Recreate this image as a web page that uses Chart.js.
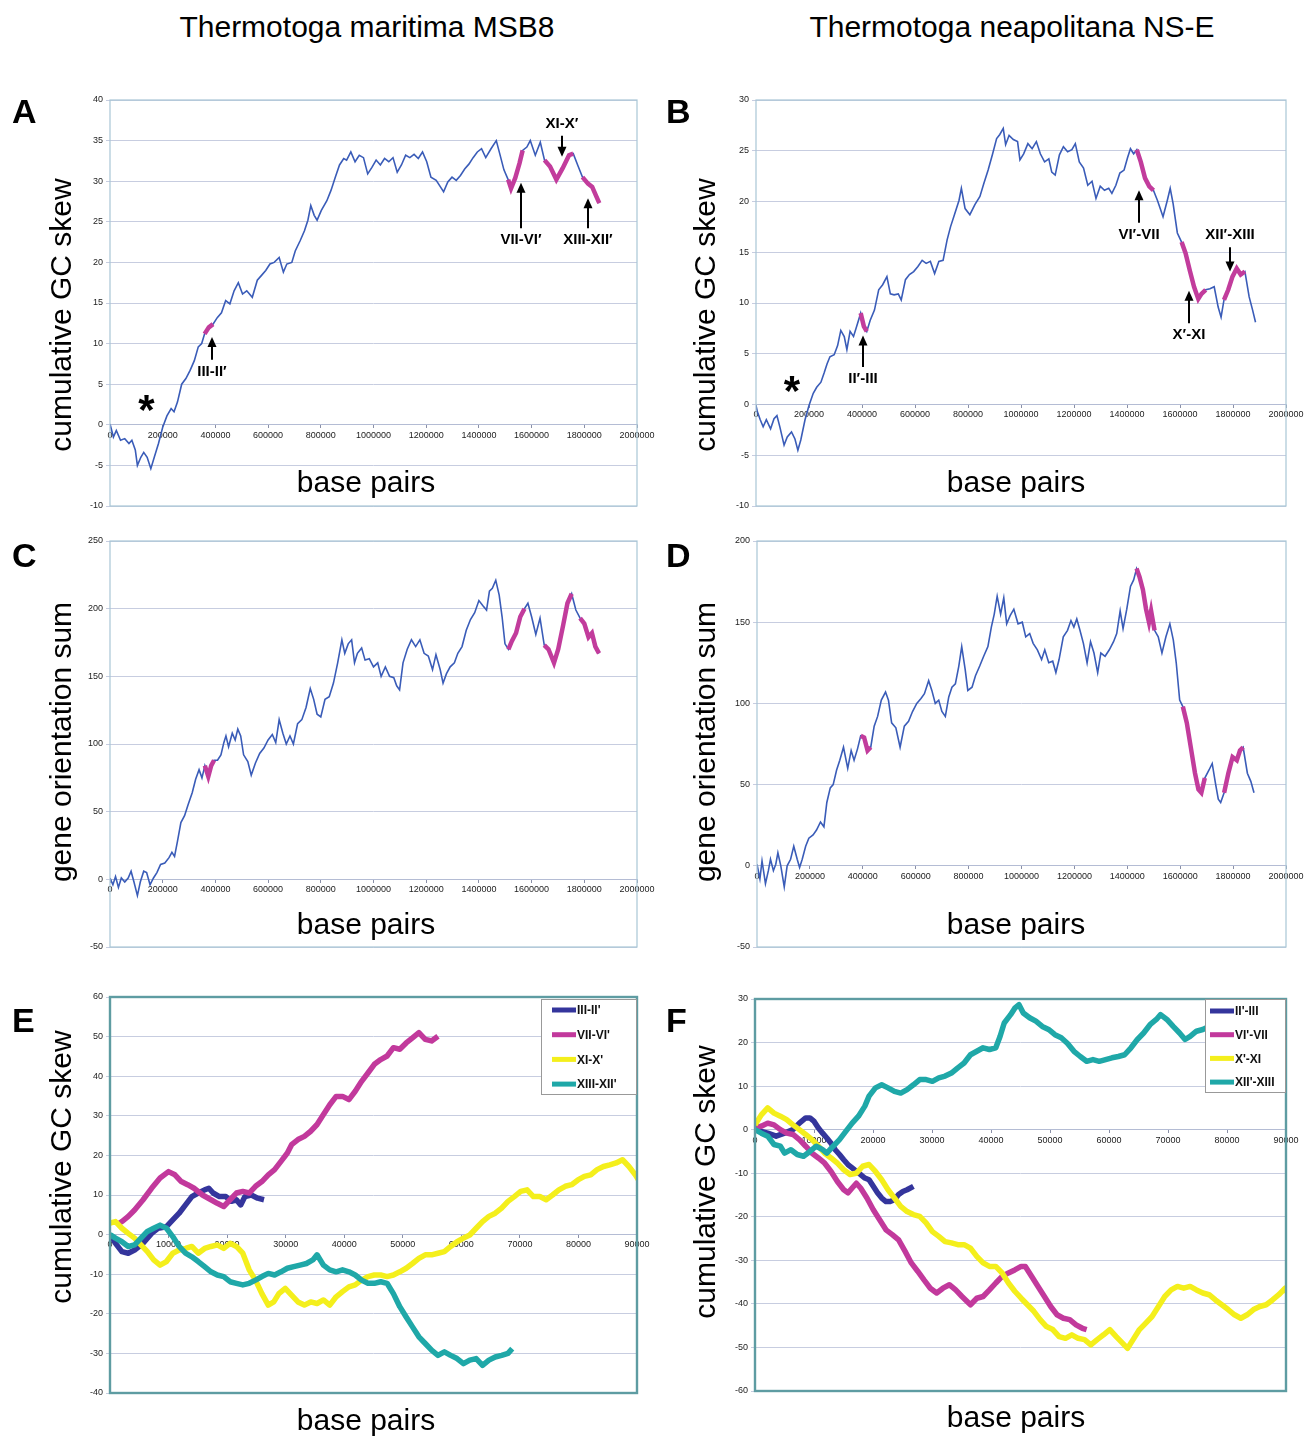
<!DOCTYPE html>
<html><head><meta charset="utf-8">
<script src="https://cdn.jsdelivr.net/npm/chart.js@4/dist/chart.umd.min.js"></script>
<style>
html,body{margin:0;padding:0;background:#fff;}
#wrap{position:relative;width:1305px;height:1436px;overflow:hidden;font-family:"Liberation Sans",Arial,sans-serif;color:#000;}
canvas{position:absolute;}
.t{position:absolute;white-space:nowrap;line-height:1;}
.c{transform:translateX(-50%);}
.rot{position:absolute;width:0;height:0;transform:rotate(-90deg);transform-origin:0 0;}
.rot span{position:absolute;left:0;white-space:nowrap;line-height:1;transform:translateX(-50%);}
</style></head><body>
<div id="wrap">
<canvas id="cA" width="662" height="470" style="left:0;top:60px"></canvas>
<canvas id="cB" width="653" height="470" style="left:652px;top:60px"></canvas>
<canvas id="cC" width="662" height="440" style="left:0;top:530px"></canvas>
<canvas id="cD" width="653" height="440" style="left:652px;top:530px"></canvas>
<canvas id="cE" width="662" height="461" style="left:0;top:975px"></canvas>
<canvas id="cF" width="653" height="461" style="left:652px;top:975px"></canvas>
</div>
<script>
// ---------------- DATA ----------------
const columnTitles = ["Thermotoga maritima MSB8", "Thermotoga neapolitana NS-E"];
const panelLetters = ["A","B","C","D","E","F"];
const yTitles = ["cumulative GC skew","cumulative GC skew","gene orientation sum","gene orientation sum","cumulative GC skew","cumulative GC skew"];
const xTitle = "base pairs";

// Panel A: T. maritima cumulative GC skew  [bp, skew]
const skewA = [[0,0.1],[13000,-1.5],[24000,-0.7],[40000,-1.9],[56000,-1.7],[72000,-2.3],[83000,-1.9],[96000,-3.1],[104000,-5.0],[117000,-4.0],[128000,-3.4],[141000,-4.0],[155000,-5.4],[168000,-4.0],[184000,-2.3],[200000,-0.3],[216000,1.1],[232000,2.0],[243000,1.6],[256000,2.8],[272000,5.0],[288000,5.7],[304000,6.7],[320000,7.9],[335000,9.6],[348000,10.0],[359000,11.2],[375000,12.0],[391000,12.4],[407000,13.2],[423000,13.8],[439000,15.3],[455000,14.9],[471000,16.5],[487000,17.5],[503000,16.1],[519000,16.5],[540000,15.7],[559000,17.8],[575000,18.4],[591000,19.0],[607000,19.8],[623000,20.0],[642000,20.6],[658000,18.8],[671000,19.8],[690000,20.0],[703000,21.4],[722000,22.7],[738000,23.9],[751000,25.2],[762000,27.0],[775000,25.8],[786000,25.2],[802000,26.4],[823000,27.6],[839000,28.9],[855000,30.5],[871000,32.0],[887000,32.8],[898000,32.6],[914000,33.6],[930000,32.4],[946000,33.2],[962000,32.9],[978000,30.9],[994000,31.7],[1010000,32.6],[1026000,32.0],[1042000,32.8],[1058000,32.4],[1074000,32.9],[1090000,31.1],[1106000,32.0],[1122000,33.2],[1138000,32.9],[1154000,33.3],[1170000,32.8],[1186000,33.6],[1202000,32.4],[1218000,30.5],[1238000,30.1],[1254000,29.3],[1266000,28.7],[1282000,29.9],[1298000,30.5],[1314000,30.1],[1330000,30.7],[1346000,31.5],[1362000,32.1],[1378000,32.9],[1394000,33.6],[1410000,34.0],[1426000,32.9],[1446000,34.0],[1466000,35.0],[1479000,33.4],[1495000,31.4],[1511000,30.2],[1522000,29.1],[1538000,30.4],[1554000,32.2],[1566000,33.8],[1582000,34.2],[1595000,35.0],[1614000,33.2],[1633000,34.8],[1649000,32.6],[1670000,31.8],[1694000,30.2],[1718000,31.6],[1742000,33.2],[1758000,33.4],[1777000,31.8],[1793000,30.5],[1814000,29.7],[1830000,29.3],[1846000,28.1],[1857000,27.3]];
const islandsA = [[355000,391000],[1509000,1568000],[1649000,1758000],[1790000,1857000]];

// Panel B: T. neapolitana cumulative GC skew
const skewB = [[0,-0.1],[5000,-0.7],[16000,-1.5],[27000,-2.2],[39000,-1.5],[55000,-2.4],[68000,-1.4],[79000,-1.1],[90000,-2.2],[106000,-4.0],[118000,-3.2],[134000,-2.7],[147000,-3.4],[158000,-4.5],[169000,-3.5],[185000,-1.5],[200000,-0.1],[216000,1.1],[229000,1.7],[245000,2.2],[257000,3.1],[268000,4.0],[279000,4.7],[295000,4.9],[308000,5.8],[320000,7.3],[333000,6.7],[343000,5.4],[355000,7.2],[368000,6.7],[380000,7.7],[395000,9.0],[407000,7.7],[418000,7.2],[431000,8.3],[447000,9.3],[463000,11.3],[478000,11.8],[494000,12.6],[507000,10.9],[521000,10.8],[537000,10.9],[548000,10.3],[564000,12.3],[579000,12.8],[595000,13.1],[611000,13.6],[627000,14.2],[642000,13.9],[658000,14.1],[674000,12.9],[690000,14.1],[706000,14.2],[721000,16.2],[734000,17.5],[750000,18.8],[766000,20.1],[775000,21.3],[789000,19.3],[807000,18.7],[826000,19.7],[845000,20.5],[860000,21.8],[876000,23.1],[892000,24.6],[908000,26.2],[920000,26.6],[933000,27.2],[942000,25.6],[955000,26.5],[971000,26.1],[987000,25.9],[996000,24.1],[1010000,24.7],[1026000,25.7],[1042000,25.2],[1058000,25.9],[1073000,24.7],[1089000,23.9],[1105000,24.2],[1116000,22.9],[1129000,22.6],[1145000,24.6],[1160000,25.4],[1176000,24.9],[1192000,25.1],[1205000,25.7],[1220000,23.9],[1236000,23.3],[1252000,21.6],[1268000,22.0],[1283000,20.3],[1299000,21.5],[1315000,21.1],[1331000,21.3],[1343000,20.8],[1358000,21.6],[1373000,22.8],[1389000,23.1],[1402000,24.3],[1413000,25.2],[1425000,24.7],[1437000,25.1],[1452000,23.9],[1468000,22.3],[1484000,21.5],[1500000,21.1],[1515000,20.1],[1536000,18.5],[1552000,20.1],[1563000,21.3],[1574000,19.8],[1590000,16.9],[1606000,16.0],[1621000,14.9],[1637000,13.2],[1653000,11.6],[1669000,10.4],[1681000,10.9],[1697000,11.3],[1713000,11.4],[1729000,11.6],[1744000,9.6],[1755000,8.6],[1766000,10.3],[1782000,11.3],[1798000,12.6],[1814000,13.4],[1829000,12.8],[1845000,13.1],[1861000,10.6],[1874000,9.3],[1885000,8.1]];
const islandsB = [[393000,420000],[1437000,1500000],[1606000,1697000],[1766000,1845000]];

// Panel C: T. maritima gene orientation sum
const orientC = [[0,1],[11000,-4],[21000,2],[32000,-6],[43000,1],[56000,-2],[69000,1],[80000,6],[91000,-2],[104000,-12],[115000,-2],[128000,6],[139000,5],[152000,-4],[165000,1],[178000,5],[192000,11],[208000,12],[224000,16],[235000,20],[245000,17],[256000,28],[269000,42],[283000,47],[296000,55],[312000,64],[325000,74],[338000,81],[349000,75],[360000,84],[373000,76],[384000,84],[395000,88],[408000,88],[421000,92],[432000,101],[440000,106],[450000,98],[464000,108],[475000,103],[485000,111],[496000,106],[507000,92],[523000,87],[536000,77],[552000,86],[568000,93],[584000,97],[600000,103],[616000,107],[629000,101],[642000,118],[656000,108],[669000,100],[683000,106],[696000,100],[712000,115],[728000,118],[744000,127],[760000,141],[773000,133],[786000,122],[800000,120],[816000,133],[832000,135],[848000,145],[864000,160],[880000,177],[891000,167],[904000,174],[917000,177],[928000,160],[939000,167],[955000,171],[968000,162],[984000,163],[1000000,157],[1016000,160],[1029000,150],[1045000,157],[1061000,150],[1077000,149],[1088000,143],[1099000,140],[1112000,160],[1128000,170],[1144000,177],[1160000,172],[1176000,177],[1192000,167],[1208000,165],[1224000,155],[1237000,166],[1253000,155],[1264000,145],[1277000,152],[1291000,157],[1307000,160],[1320000,167],[1336000,172],[1352000,184],[1368000,192],[1384000,197],[1400000,206],[1416000,202],[1429000,199],[1440000,213],[1451000,215],[1464000,221],[1477000,210],[1488000,194],[1499000,174],[1512000,170],[1525000,176],[1541000,182],[1557000,194],[1573000,200],[1586000,204],[1600000,194],[1616000,181],[1632000,193],[1648000,173],[1664000,170],[1685000,160],[1701000,170],[1720000,188],[1736000,204],[1752000,211],[1768000,199],[1784000,193],[1800000,189],[1816000,179],[1829000,182],[1842000,172],[1856000,167]];
const islandsC = [[360000,395000],[1512000,1573000],[1648000,1752000],[1784000,1856000]];

// Panel D: T. neapolitana gene orientation sum
const orientD = [[0,1],[11000,-8],[19000,3],[32000,-11],[43000,-3],[51000,4],[62000,-3],[71000,1],[79000,8],[90000,0],[103000,-13],[114000,0],[127000,4],[139000,12],[152000,4],[161000,-1],[171000,4],[184000,12],[196000,17],[212000,19],[225000,22],[240000,27],[253000,24],[264000,39],[277000,48],[288000,50],[301000,59],[313000,65],[327000,73],[343000,60],[356000,71],[367000,65],[380000,72],[392000,80],[405000,79],[418000,71],[430000,73],[443000,86],[456000,92],[470000,102],[486000,107],[497000,102],[509000,88],[525000,85],[541000,73],[557000,86],[573000,89],[588000,95],[604000,100],[620000,103],[633000,106],[649000,114],[661000,108],[674000,100],[687000,102],[699000,95],[712000,92],[725000,104],[737000,110],[750000,112],[763000,123],[774000,135],[787000,121],[797000,108],[813000,110],[826000,117],[842000,123],[857000,129],[873000,135],[886000,147],[897000,155],[908000,166],[921000,155],[933000,165],[944000,149],[957000,154],[971000,158],[987000,149],[1003000,150],[1016000,141],[1031000,143],[1044000,137],[1060000,133],[1076000,127],[1088000,133],[1103000,125],[1118000,126],[1130000,119],[1142000,127],[1158000,141],[1174000,145],[1187000,151],[1198000,147],[1209000,152],[1221000,145],[1234000,137],[1248000,125],[1261000,138],[1274000,131],[1288000,119],[1300000,131],[1316000,129],[1332000,133],[1348000,138],[1360000,143],[1373000,157],[1384000,146],[1398000,158],[1412000,172],[1424000,176],[1435000,183],[1446000,178],[1459000,170],[1471000,158],[1482000,150],[1490000,157],[1503000,145],[1517000,141],[1531000,131],[1546000,141],[1561000,149],[1574000,139],[1585000,125],[1598000,102],[1610000,98],[1625000,88],[1640000,73],[1656000,57],[1669000,47],[1680000,45],[1693000,54],[1709000,59],[1721000,63],[1733000,51],[1744000,41],[1753000,39],[1766000,45],[1782000,57],[1798000,67],[1814000,65],[1826000,71],[1838000,73],[1854000,57],[1867000,52],[1879000,45]];
const islandsD = [[392000,430000],[1435000,1503000],[1610000,1693000],[1766000,1838000]];

// Panel E: T. maritima islands, cumulative GC skew
const labelsE = ["III-II'","VII-VI'","XI-X'","XIII-XII'"];
const e1 = [[0,0],[940,-2.2],[2030,-4.3],[3120,-4.7],[4200,-3.9],[5650,-2.2],[7100,0.3],[8190,1.6],[9640,2.0],[10720,3.7],[11810,5.4],[12900,7.5],[13980,9.6],[15070,10.5],[16160,11.3],[16880,11.7],[17610,10.5],[18690,9.6],[19780,9.6],[20720,8.4],[21590,8.8],[22320,7.5],[23040,9.6],[24130,10.0],[25220,9.2],[26300,8.8]];
const e2 = [[1500,2.8],[2030,3.3],[3120,4.6],[4200,6.2],[5650,8.8],[7100,11.7],[8550,14.3],[9990,15.9],[11090,15.1],[12170,13.4],[13260,12.6],[14350,11.7],[15800,10.0],[17250,8.8],[18330,7.9],[19420,7.1],[20510,8.8],[21590,10.5],[22680,10.9],[23770,10.5],[24850,12.2],[25940,13.4],[27030,15.1],[28110,16.4],[29200,18.5],[30290,20.6],[31010,22.7],[32100,24.0],[33190,24.8],[34270,26.1],[35360,27.8],[36450,30.3],[37530,32.8],[38620,34.9],[39710,34.9],[40800,34.1],[41880,36.2],[42970,38.7],[44050,40.8],[45140,43.0],[46230,44.2],[47320,45.1],[48400,47.2],[49490,46.8],[50580,48.4],[51660,49.7],[52750,51.0],[53840,49.3],[54920,48.9],[56010,50.1]];
const e3 = [[0,2.9],[940,3.3],[2030,1.6],[3120,0.3],[4200,-0.9],[5290,-2.6],[6380,-4.3],[7460,-6.4],[8550,-7.7],[9640,-6.8],[10720,-4.7],[11810,-3.9],[12900,-3.5],[13980,-3.0],[15070,-4.7],[16160,-3.5],[17250,-3.0],[18330,-2.6],[19420,-3.5],[20510,-2.2],[21590,-3.0],[22680,-4.7],[23770,-8.9],[24850,-11.5],[25940,-14.9],[27030,-17.8],[27970,-17.0],[28840,-14.9],[29930,-13.6],[31010,-15.3],[32100,-17.0],[33190,-17.8],[34270,-17.0],[35360,-17.4],[36450,-16.5],[37530,-17.8],[38620,-15.7],[39710,-14.4],[40800,-13.2],[41880,-12.7],[42970,-11.5],[44050,-10.6],[45140,-10.2],[46230,-10.2],[47320,-10.6],[48400,-10.2],[49490,-9.4],[50580,-8.5],[51660,-7.3],[52750,-6.0],[53840,-5.1],[54920,-5.1],[56010,-4.7],[57100,-4.3],[58180,-3.0],[59270,-1.8],[60360,-0.9],[61440,-0.1],[62530,1.6],[63620,3.3],[64710,4.6],[65790,5.4],[66880,6.7],[67970,8.4],[69050,9.6],[70140,10.9],[71230,11.3],[72310,9.6],[73400,9.6],[74490,8.8],[75580,10.0],[76660,11.3],[77750,12.2],[78840,12.6],[79920,13.8],[81010,14.7],[82100,15.1],[83180,16.4],[84270,17.2],[85360,17.6],[86440,18.1],[87530,18.9],[88620,17.2],[89710,15.1],[90430,13.4]];
const e4 = [[0,0],[940,-0.9],[2030,-1.8],[3120,-3.0],[4200,-2.6],[5290,-0.9],[6380,0.8],[7460,1.6],[8550,2.4],[9640,1.6],[10720,-0.5],[11810,-3.0],[12900,-4.7],[13980,-5.6],[15070,-6.8],[16160,-8.1],[17250,-9.4],[18330,-10.2],[19420,-10.6],[20510,-11.9],[21590,-12.3],[22680,-12.7],[23770,-12.3],[24850,-11.5],[25940,-10.6],[27030,-9.8],[28110,-10.2],[29200,-9.4],[30290,-8.5],[31370,-8.1],[32460,-7.7],[33550,-7.3],[34640,-6.4],[35360,-5.1],[36450,-7.7],[37530,-8.9],[38620,-9.4],[39710,-8.9],[40800,-9.4],[41880,-10.2],[42970,-11.5],[44050,-12.3],[45140,-12.3],[46230,-11.9],[47320,-12.3],[48400,-14.9],[49490,-18.2],[50580,-20.8],[51660,-23.3],[52750,-25.8],[53840,-27.5],[54920,-29.2],[56010,-30.5],[57100,-29.6],[58180,-30.5],[59270,-31.3],[60360,-32.6],[61440,-31.7],[62530,-31.3],[63620,-33.0],[64710,-31.7],[65790,-30.9],[66880,-30.5],[67970,-30.0],[68690,-28.8]];

// Panel F: T. neapolitana islands, cumulative GC skew
const labelsF = ["II'-III","VI'-VII","X'-XI","XII'-XIII"];
const f1 = [[0,0],[2150,-0.8],[3580,-1.5],[5010,-0.8],[6440,0],[7520,1.5],[8590,2.7],[9310,2.7],[10020,1.9],[10740,0.4],[11460,-0.8],[12170,-1.9],[12890,-3.1],[13600,-4.6],[14320,-5.7],[15040,-6.9],[15750,-8.0],[16470,-8.8],[17180,-9.6],[17900,-10.3],[18620,-11.1],[19330,-11.5],[20050,-13.0],[20760,-14.5],[21480,-15.7],[22200,-16.5],[22910,-16.5],[23630,-16.1],[24340,-14.9],[25060,-14.2],[25780,-13.8],[26850,-13.0]];
const f2 = [[0,0.4],[1070,0.8],[2150,1.5],[3220,1.1],[4300,0],[5370,-0.8],[6440,-1.1],[7520,-2.3],[8590,-3.8],[9670,-5.4],[10740,-6.5],[11810,-7.7],[12890,-9.6],[13960,-11.9],[15040,-13.8],[15750,-14.5],[16470,-13.4],[17180,-12.3],[17900,-13.4],[18970,-15.7],[20050,-18.4],[21120,-20.7],[22200,-23.0],[23270,-24.1],[24340,-25.3],[25420,-27.9],[26490,-30.6],[27570,-32.5],[28640,-34.5],[29710,-36.4],[30790,-37.5],[31860,-36.4],[32940,-35.6],[34010,-36.8],[35080,-38.3],[36520,-40.2],[37590,-38.7],[38660,-38.3],[39740,-36.8],[40810,-35.2],[41890,-33.7],[42960,-32.9],[44030,-32.2],[45110,-31.4],[45820,-31.4],[46900,-33.7],[47970,-36.0],[49050,-38.3],[50120,-40.6],[51190,-42.5],[52270,-43.3],[53340,-43.6],[54420,-44.8],[55490,-45.6],[56210,-45.9]];
const f3 = [[0,1.1],[1070,3.4],[2150,5.0],[3220,3.8],[4300,3.1],[5370,2.3],[6440,1.1],[7520,0],[8590,-1.1],[9670,-2.3],[10740,-3.8],[11810,-5.4],[12890,-6.5],[13960,-7.7],[15040,-9.2],[16110,-10.3],[17180,-10.0],[18260,-8.4],[19330,-8.0],[20410,-9.6],[21480,-11.5],[22550,-13.8],[23630,-15.7],[24700,-17.6],[25780,-18.8],[26850,-19.5],[27920,-19.9],[29000,-21.4],[30070,-23.4],[31150,-24.5],[32220,-25.7],[33290,-26.0],[34370,-26.4],[35440,-26.4],[36520,-27.2],[37590,-29.1],[38660,-30.6],[39740,-31.4],[40810,-31.4],[41890,-32.9],[42960,-35.2],[44030,-37.1],[45110,-38.7],[46180,-40.2],[47260,-41.7],[48330,-43.6],[49400,-45.2],[50480,-45.9],[51550,-47.5],[52630,-47.9],[53700,-47.1],[54770,-47.9],[55850,-48.2],[56920,-49.4],[58000,-48.2],[59070,-47.1],[60140,-45.9],[61220,-47.5],[62290,-49.0],[63150,-50.2],[64080,-48.2],[65160,-45.9],[66230,-44.4],[67300,-42.9],[68380,-40.6],[69450,-38.3],[70530,-36.8],[71600,-36.0],[72670,-36.4],[73750,-36.0],[74820,-36.8],[75900,-37.5],[76970,-37.9],[78040,-39.1],[79120,-40.2],[80190,-41.3],[81270,-42.5],[82340,-43.3],[83410,-42.5],[84490,-41.3],[85560,-40.6],[86640,-40.2],[87710,-39.1],[88780,-37.9],[89860,-36.4],[90570,-38.3]];
const f4 = [[0,0],[1070,-0.8],[2150,-1.5],[3220,-3.4],[4300,-3.8],[5010,-5.4],[6090,-4.6],[7160,-5.7],[8230,-6.1],[9310,-5.0],[10380,-3.8],[11460,-4.6],[12170,-5.4],[13250,-3.8],[14320,-2.3],[15390,-0.4],[16470,1.5],[17540,3.1],[18620,5.4],[19330,7.7],[20410,9.6],[21480,10.3],[22550,9.6],[23630,8.8],[24700,8.4],[25780,9.2],[26850,10.3],[27920,11.5],[29000,11.5],[30070,11.1],[31150,11.9],[32220,12.3],[33290,13.0],[34370,14.2],[35440,15.3],[36520,17.2],[37590,18.0],[38660,18.8],[39740,18.4],[40810,18.8],[41530,21.4],[42240,24.5],[43320,26.4],[44030,27.9],[44750,28.7],[45470,26.8],[46540,25.7],[47610,24.9],[48690,23.7],[49760,23.0],[50840,21.8],[51910,21.1],[52980,19.8],[54060,18.0],[55130,16.8],[56210,15.7],[57280,16.1],[58350,15.7],[59430,16.1],[60500,16.5],[61580,16.8],[62650,17.2],[63720,18.8],[64800,20.7],[65870,22.2],[66950,24.1],[68020,25.3],[68740,26.4],[69810,25.3],[70880,23.7],[71960,22.2],[72890,20.7],[73750,21.4],[74820,22.6],[75900,23.0],[76970,23.7]];

// Arrow annotations (data coordinates: x in bp, tip / tail in y units)
const arrowsA = [
  {label:"XI-X\u2032", x:1715000, tip:33.0, tail:35.6},
  {label:"VII-VI\u2032", x:1560000, tip:29.8, tail:24.2},
  {label:"XIII-XII\u2032", x:1814000, tip:27.9, tail:24.2},
  {label:"III-II\u2032", x:386000, tip:10.8, tail:8.0}
];
const arrowsB = [
  {label:"VI\u2032-VII", x:1444000, tip:21.1, tail:17.9},
  {label:"XII\u2032-XIII", x:1788000, tip:13.1, tail:15.5},
  {label:"X\u2032-XI", x:1633000, tip:11.2, tail:8.0},
  {label:"II\u2032-III", x:404000, tip:6.8, tail:3.7}
];
const starA = {x:138500, y:2.5};
const starB = {x:136000, y:1.9};

// ---------------- STYLE / LAYOUT ----------------
const FONT = '"Liberation Sans", Arial, sans-serif';
const BLUE = '#3a5cb8', MAG = '#c23c9c';
const seriesColors = ['#34359c', '#c2399c', '#f4ef1c', '#1fa8a8'];

const deco = {
  id: 'deco',
  afterDatasetsDraw(chart, args, o) {
    const {ctx, chartArea: a, scales: {x, y}} = chart;
    ctx.save();
    ctx.strokeStyle = o.borderColor; ctx.lineWidth = o.borderWidth;
    ctx.strokeRect(a.left, a.top, a.right - a.left, a.bottom - a.top);
    (o.arrows || []).forEach(an => {
      const px = Math.round(x.getPixelForValue(an.x)), pt = y.getPixelForValue(an.tip), pl = y.getPixelForValue(an.tail);
      const dir = pt > pl ? 1 : -1;
      ctx.strokeStyle = '#000'; ctx.lineWidth = 2;
      ctx.beginPath(); ctx.moveTo(px, pl); ctx.lineTo(px, pt - dir * 6); ctx.stroke();
      ctx.fillStyle = '#000';
      ctx.beginPath(); ctx.moveTo(px, pt); ctx.lineTo(px - 4.5, pt - dir * 10); ctx.lineTo(px + 4.5, pt - dir * 10); ctx.closePath(); ctx.fill();
      ctx.font = 'bold 15px ' + FONT; ctx.textAlign = 'center'; ctx.textBaseline = 'middle';
      ctx.fillText(an.label, px, pl - dir * 12);
    });
    if (o.star) {
      ctx.fillStyle = '#000'; ctx.font = 'bold 42px ' + FONT; ctx.textAlign = 'center'; ctx.textBaseline = 'middle';
      ctx.fillText('*', x.getPixelForValue(o.star.x), y.getPixelForValue(o.star.y) + 8);
    }
    if (o.legend) {
      const L = o.legend, bx = a.right - L.width, by = a.top + L.top;
      ctx.fillStyle = '#fff'; ctx.fillRect(bx, by, L.width, L.height);
      ctx.strokeStyle = '#999'; ctx.lineWidth = 1; ctx.strokeRect(bx + 0.5, by + 0.5, L.width - 1, L.height - 1);
      chart.data.datasets.forEach((ds, i) => {
        const yy = by + L.first + i * L.step;
        ctx.strokeStyle = ds.borderColor; ctx.lineWidth = 5; ctx.lineCap = 'butt';
        ctx.beginPath(); ctx.moveTo(bx + L.sx0, yy); ctx.lineTo(bx + L.sx1, yy); ctx.stroke();
        ctx.fillStyle = '#111'; ctx.font = 'bold 12px ' + FONT; ctx.textAlign = 'left'; ctx.textBaseline = 'middle';
        ctx.fillText(ds.label, bx + L.sx1 + 1, yy + 1);
      });
    }
    ctx.restore();
  }
};
Chart.register(deco);

function toXY(pairs) { return pairs.map(p => ({x: p[0], y: p[1]})); }
function islandPoints(pairs, ranges) {
  return pairs.map(p => ({x: p[0], y: ranges.some(r => p[0] >= r[0] && p[0] <= r[1]) ? p[1] : null}));
}

function scales(xMax, xStep, yMin, yMax, yStep, yWidth) {
  return {
    x: {
      type: 'linear', min: 0, max: xMax, position: {y: 0},
      ticks: {stepSize: xStep, autoSkip: false, maxRotation: 0, padding: 2, color: '#222',
              font: {size: 9, family: FONT}, callback: v => String(v)},
      grid: {display: true, drawOnChartArea: false, drawTicks: true, tickLength: 3, color: '#8a90a8'},
      border: {display: true, color: '#b4bcd4', width: 1},
      afterFit(s) { s.paddingLeft = 0; s.paddingRight = 0; }
    },
    y: {
      type: 'linear', min: yMin, max: yMax,
      ticks: {stepSize: yStep, padding: 3, color: '#222', font: {size: 9, family: FONT}},
      grid: {color: '#c7cde0', tickLength: 4, drawTicks: true},
      border: {display: false},
      afterFit(s) { s.width = yWidth; }
    }
  };
}

function genomeChart(id, pairs, ranges, sc, pad, extra) {
  return new Chart(document.getElementById(id), {
    type: 'line',
    data: {datasets: [
      {label: 'islands', data: islandPoints(pairs, ranges), borderColor: MAG, borderWidth: 4.5, pointRadius: 0, spanGaps: false, order: 0},
      {label: 'genome', data: toXY(pairs), borderColor: BLUE, borderWidth: 1.6, pointRadius: 0, order: 1}
    ]},
    options: {
      responsive: false, animation: false, devicePixelRatio: 1,
      layout: {padding: pad},
      scales: sc,
      plugins: {legend: {display: false}, tooltip: {enabled: false},
        deco: Object.assign({borderColor: '#a9c6d6', borderWidth: 1.2}, extra)}
    }
  });
}

function islandChart(id, series, labels, sc, pad, legend) {
  return new Chart(document.getElementById(id), {
    type: 'line',
    data: {datasets: series.map((s, i) => ({label: labels[i], data: toXY(s), borderColor: seriesColors[i],
      borderWidth: 5.5, pointRadius: 0, order: -i, borderJoinStyle: 'round'}))},
    options: {
      responsive: false, animation: false, devicePixelRatio: 1,
      layout: {padding: pad},
      scales: sc,
      plugins: {legend: {display: false}, tooltip: {enabled: false},
        deco: {borderColor: '#5e9ca2', borderWidth: 2.4, legend: legend}}
    }
  });
}

genomeChart('cA', skewA, islandsA, scales(2000000, 200000, -10, 40, 5, 110), {left: 0, top: 40, right: 25, bottom: 24}, {arrows: arrowsA, star: starA});
genomeChart('cB', skewB, islandsB, scales(2000000, 200000, -10, 30, 5, 104), {left: 0, top: 40, right: 19, bottom: 24}, {arrows: arrowsB, star: starB});
genomeChart('cC', orientC, islandsC, scales(2000000, 200000, -50, 250, 50, 110), {left: 0, top: 11, right: 25, bottom: 23}, {});
genomeChart('cD', orientD, islandsD, scales(2000000, 200000, -50, 200, 50, 105), {left: 0, top: 11, right: 19, bottom: 23}, {});
islandChart('cE', [e1, e2, e3, e4], labelsE, scales(90000, 10000, -40, 60, 10, 110), {left: 0, top: 22, right: 25, bottom: 43},
  {width: 96, height: 96, top: 2, first: 11, step: 24.7, sx0: 11, sx1: 35});
islandChart('cF', [f1, f2, f3, f4], labelsF, scales(90000, 10000, -60, 30, 10, 103), {left: 0, top: 24, right: 19, bottom: 45},
  {width: 81, height: 94, top: 0, first: 12, step: 23.7, sx0: 5, sx1: 29});

// ---------------- TEXT OVERLAYS ----------------
const wrap = document.getElementById('wrap');
const ASC = 0.8465;
function text(str, x, baseline, size, weight, center) {
  const d = document.createElement('div');
  d.className = 't' + (center ? ' c' : '');
  d.textContent = str;
  d.style.left = x + 'px';
  d.style.top = (baseline - ASC * size) + 'px';
  d.style.fontSize = size + 'px';
  d.style.fontWeight = weight;
  wrap.appendChild(d);
}
function vtext(str, baseX, cy, size) {
  const w = document.createElement('div');
  w.className = 'rot';
  w.style.left = baseX + 'px'; w.style.top = cy + 'px';
  const s = document.createElement('span');
  s.textContent = str; s.style.fontSize = size + 'px'; s.style.top = (-ASC * size) + 'px';
  w.appendChild(s); wrap.appendChild(w);
}
text(columnTitles[0], 367, 37, 30, 'normal', true);
text(columnTitles[1], 1012, 37, 30, 'normal', true);
const letterPos = [[12,123],[666,123],[12,567],[666,567],[12,1032],[666,1032]];
panelLetters.forEach((l, i) => text(l, letterPos[i][0], letterPos[i][1], 34, 'bold', false));
const yTitlePos = [[71,315],[715,315],[71,742],[715,742],[71,1167],[715,1182]];
yTitles.forEach((t, i) => vtext(t, yTitlePos[i][0], yTitlePos[i][1], 30));
const xTitlePos = [[366,492],[1016,492],[366,934],[1016,934],[366,1430],[1016,1427]];
xTitlePos.forEach(p => text(xTitle, p[0], p[1], 30, 'normal', true));
</script>
</body></html>
